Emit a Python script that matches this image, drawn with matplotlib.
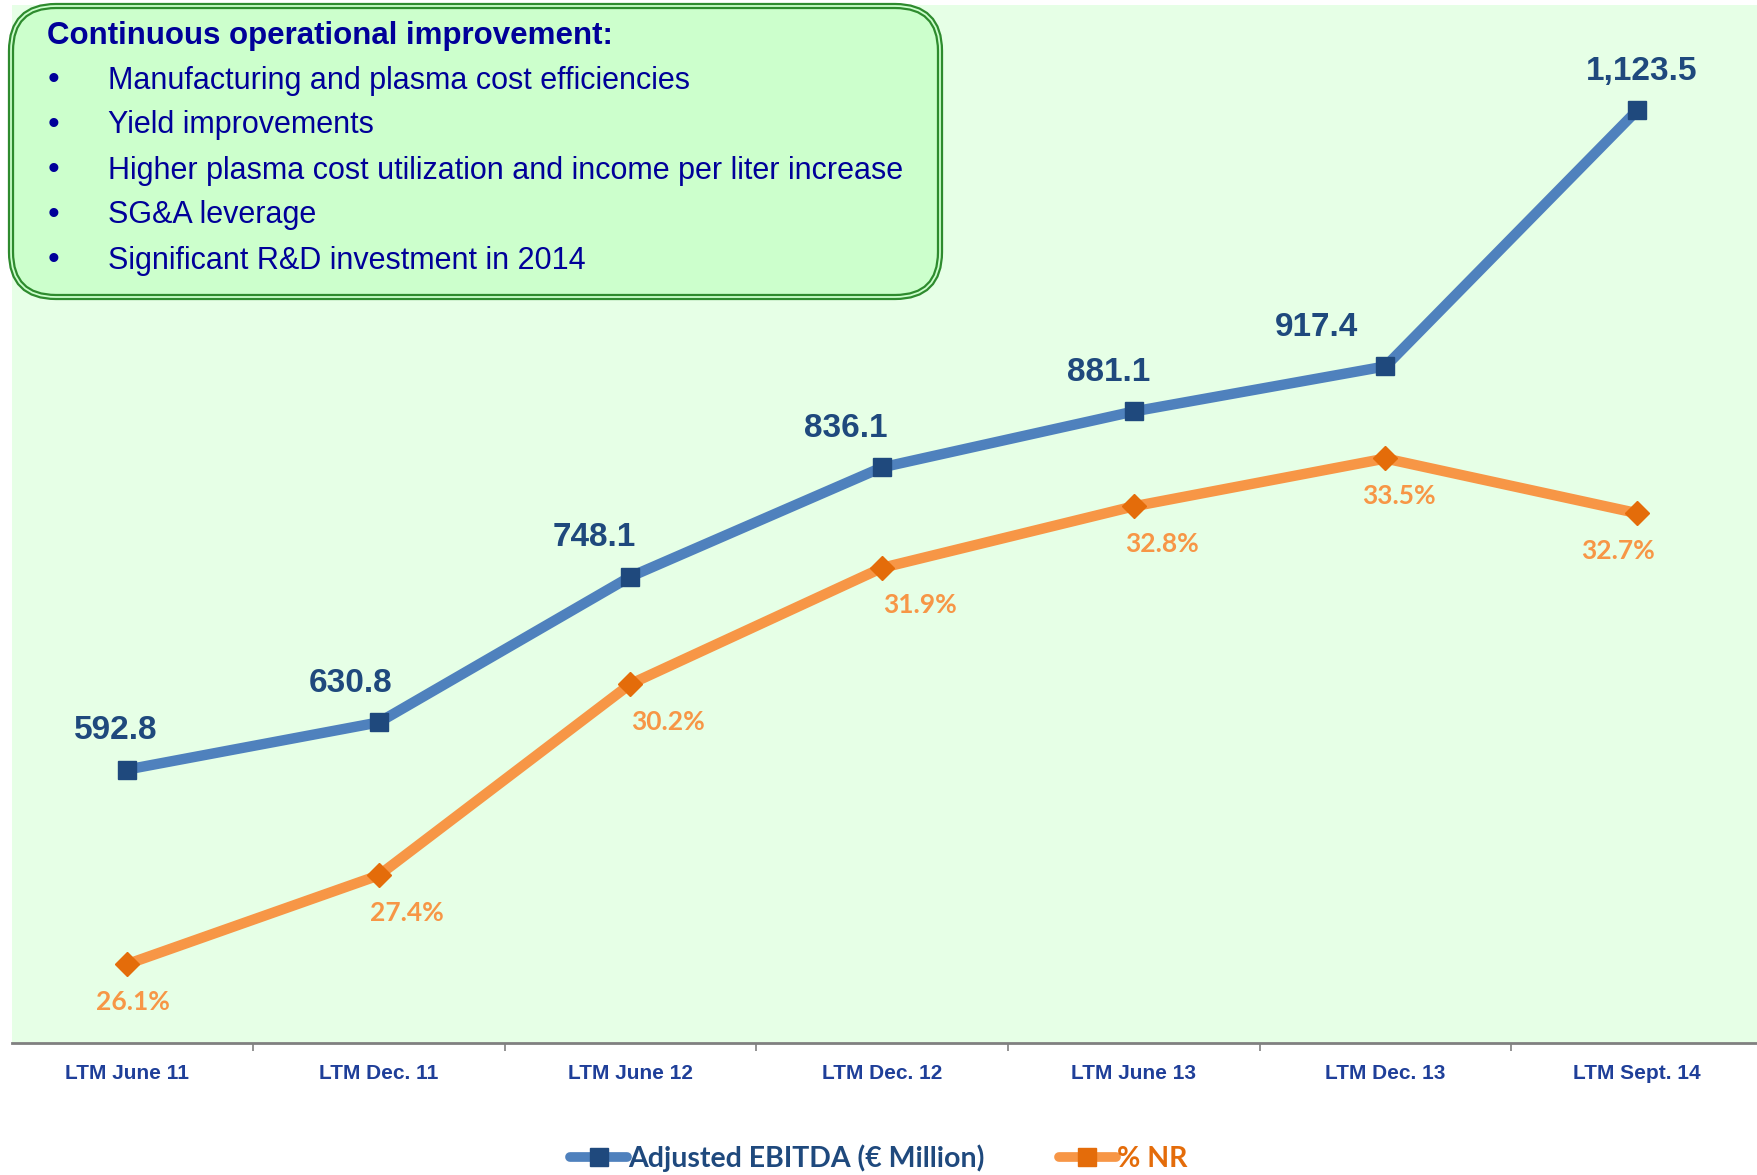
import matplotlib
matplotlib.use("Agg")
import matplotlib.pyplot as plt
from matplotlib.patches import FancyBboxPatch
from matplotlib.transforms import IdentityTransform
from matplotlib.lines import Line2D

# data
periods = ["LTM June 11", "LTM Dec. 11", "LTM June 12", "LTM Dec. 12",
           "LTM June 13", "LTM Dec. 13", "LTM Sept. 14"]
ebitda = [592.8, 630.8, 748.1, 836.1, 881.1, 917.4, 1123.5]
nr_pct = [26.1, 27.4, 30.2, 31.9, 32.8, 33.5, 32.7]
box_title = "Continuous operational improvement:"
box_items = ["Manufacturing and plasma cost efficiencies",
             "Yield improvements",
             "Higher plasma cost utilization and income per liter increase",
             "SG&A leverage",
             "Significant R&D investment in 2014"]

NARROW = ["Liberation Sans", "DejaVu Sans"]
CAL = ["Lato", "DejaVu Sans"]
BLUE_LINE = "#4F81BD"
BLUE_DARK = "#1F497D"
ORANGE_LINE = "#F79646"
ORANGE_DARK = "#E46C0A"
NAVY = "#000099"

W, H = 1758, 1175
fig = plt.figure(figsize=(W / 100, H / 100), dpi=100)
fig.patch.set_facecolor("white")

ax = fig.add_axes([12 / W, 1 - 1043 / H, 1 - 12 / W, (1043 - 5) / H])
ax.set_facecolor("#E6FFE6")
ax2 = ax.twinx()

x = list(range(len(periods)))
ax.plot(x, ebitda, color=BLUE_LINE, lw=7.5, marker="s", ms=13,
        mfc=BLUE_DARK, mec=BLUE_DARK, zorder=3)
ax2.plot(x, nr_pct, color=ORANGE_LINE, lw=7.5, marker="D", ms=12.5,
         mfc=ORANGE_DARK, mec=ORANGE_DARK, zorder=3)

ax.set_xlim(-0.457, 6.48)
ax.set_ylim(372.7, 1208.3)
ax2.set_ylim(24.947, 40.136)

# data labels
eb_dx = [-8, -20, -26, -26, -18, -50, 3]
for i, v in enumerate(ebitda):
    ax.annotate(f"{v:,.1f}", (i, v), xytext=(eb_dx[i], 28), textcoords="offset points",
                ha="center", va="center", fontsize=24, fontweight="bold",
                color=BLUE_DARK, family=NARROW)
nr_dx = [4, 20, 27, 27, 20, 10, -14]
for i, v in enumerate(nr_pct):
    ax2.annotate(f"{v:.1f}%", (i, v), xytext=(nr_dx[i], -27), textcoords="offset points",
                 ha="center", va="center", fontsize=19, fontweight="bold",
                 color=ORANGE_LINE, family=CAL)

# axes styling
for a in (ax, ax2):
    for s in ("top", "right", "left"):
        a.spines[s].set_visible(False)
    a.set_yticks([])
ax2.spines["bottom"].set_visible(False)
ax.spines["bottom"].set_color("#808080")
ax.spines["bottom"].set_linewidth(2)
ax.set_xticks(x)
ax.set_xticklabels(periods, fontsize=15, fontweight="bold", color="#1F3F99", family=NARROW)
ax.tick_params(axis="x", which="major", length=0, pad=15)
ax.set_xticks([i + 0.5 for i in x[:-1]], minor=True)
ax.tick_params(axis="x", which="minor", length=6, width=1.2, color="#808080")

# text box with double border
r = 45
bstyle = f"round,pad=0,rounding_size={r}"
bxy, bw, bh = (11, H - 297), 929, 291
fig.patches.append(FancyBboxPatch(bxy, bw, bh, boxstyle=bstyle, transform=IdentityTransform(),
                                  facecolor="#CCFFCC", edgecolor="#2E8B2E", lw=4.5, zorder=5))
fig.patches.append(FancyBboxPatch(bxy, bw, bh, boxstyle=bstyle, transform=IdentityTransform(),
                                  facecolor="none", edgecolor="#CCFFCC", lw=1.3, zorder=6))

fig.text(47 / W, 1 - 36 / H, box_title, fontsize=22.5, fontweight="bold", color=NAVY,
         family=NARROW, va="center", ha="left", zorder=7)
for k, item in enumerate(box_items):
    yy = 1 - (80.5 + 45 * k) / H
    fig.text(54 / W, yy, "\u2022", fontsize=24, color=NAVY, family=NARROW,
             va="center", ha="center", zorder=7)
    fig.text(108 / W, yy, item, fontsize=22, color=NAVY, family=NARROW,
             va="center", ha="left", zorder=7)

# legend
handles = [Line2D([], [], color=BLUE_LINE, lw=7, marker="s", ms=13,
                  mfc=BLUE_DARK, mec=BLUE_DARK, solid_capstyle="round"),
           Line2D([], [], color=ORANGE_LINE, lw=7, marker="s", ms=13,
                  mfc=ORANGE_DARK, mec=ORANGE_DARK, solid_capstyle="round")]
leg = fig.legend(handles, ["Adjusted EBITDA (\u20ac Million)", "% NR"], loc="center",
                 bbox_to_anchor=(0.5, 1 - 1158 / H), ncol=2, frameon=False,
                 handlelength=2.0, handletextpad=0.05, columnspacing=2.6,
                 prop={"family": CAL, "weight": "bold", "size": 20.5},
                 labelcolor=[BLUE_DARK, ORANGE_DARK])

fig.savefig("out.png", dpi=100)
